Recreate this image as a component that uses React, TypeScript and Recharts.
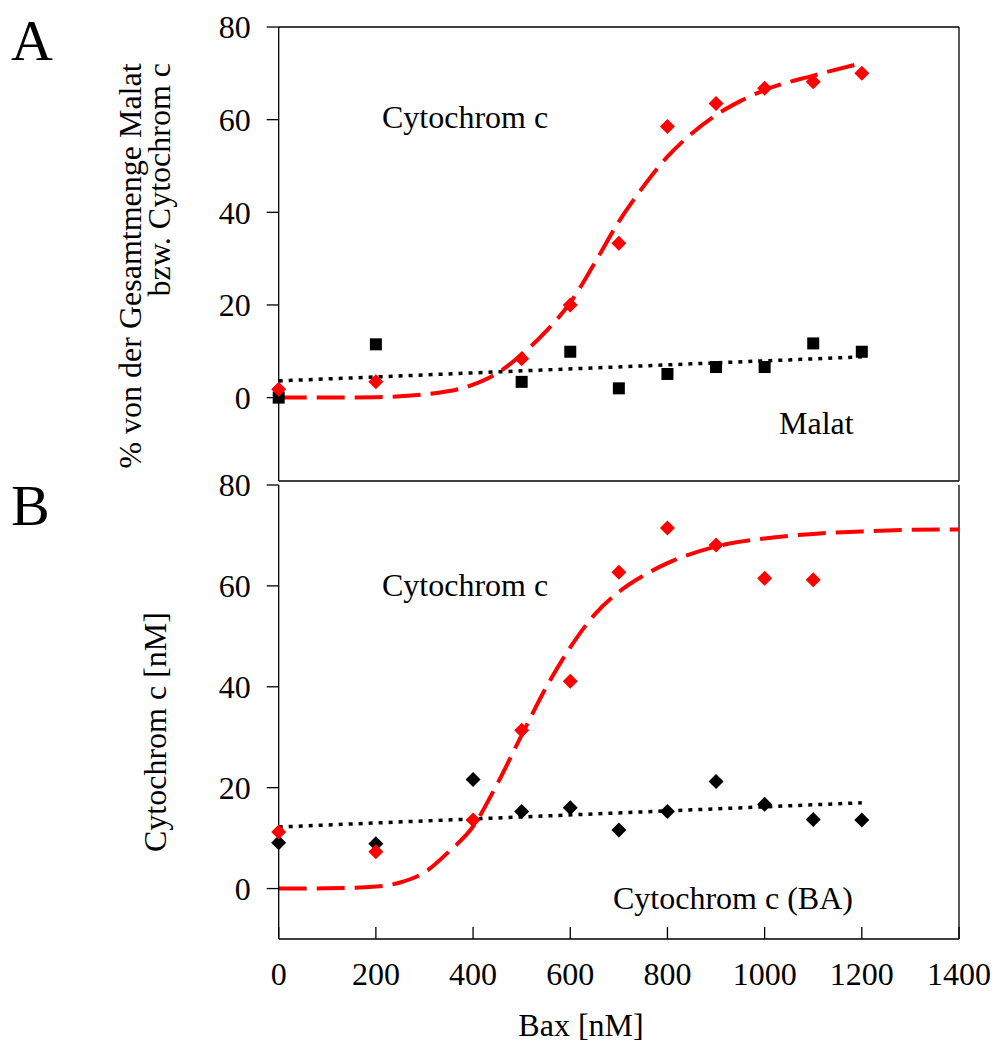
import React from "react";
import { ComposedChart, Line, ReferenceLine, Scatter, XAxis, YAxis } from "recharts";

const FONT = '"Liberation Serif", "Times New Roman", serif';

const baxTicks = [0, 200, 400, 600, 800, 1000, 1200, 1400];
const percentTicks = [0, 20, 40, 60, 80];

// Panel A: release in % of total
const baxA = [0, 200, 500, 600, 700, 800, 900, 1000, 1100, 1200];
const cytoA = [1.8, 3.4, 8.4, 20.0, 33.3, 58.5, 63.5, 66.8, 68.2, 70.0];
const malatA = [0.0, 11.5, 3.4, 9.9, 2.0, 5.1, 6.6, 6.6, 11.7, 9.9];

const fitAx = [0, 100, 200, 300, 400, 450, 500, 550, 600, 650, 700, 750, 800, 850, 900, 950, 1000, 1100, 1200];
const fitAy = [0, 0, 0.1, 0.7, 2.8, 5.3, 9.3, 14.3, 20.5, 29, 38, 45.5, 52, 57, 61, 64, 66.4, 69.5, 72.2];
const trendAx = [0, 1200];
const trendAy = [3.6, 8.8];

// Panel B: cytochrome c in nM
const baxB = [0, 200, 400, 500, 600, 700, 800, 900, 1000, 1100, 1200];
const cytoBx = [0, 200, 400, 500, 600, 700, 800, 900, 1000, 1100];
const cytoB = [11.2, 7.3, 13.6, 31.4, 41.1, 62.7, 71.5, 68.1, 61.5, 61.2];
const cytoBA = [9.1, 8.9, 21.6, 15.3, 16.0, 11.6, 15.3, 21.2, 16.7, 13.7, 13.6];

const fitBx = [0, 100, 200, 250, 300, 350, 400, 450, 500, 550, 600, 650, 700, 750, 800, 900, 1000, 1100, 1200, 1300, 1400];
const fitBy = [0, 0.05, 0.4, 1.2, 3.2, 7.3, 12.3, 20.8, 30.4, 39.8, 47.8, 54.3, 58.8, 62, 64.5, 67.8, 69.4, 70.3, 70.8, 71.1, 71.2];
const trendBx = [0, 1200];
const trendBy = [12.2, 17.0];

const zip = (xs: number[], ys: number[]) => xs.map((x, i) => ({ x, y: ys[i] }));

const diamond = (color: string, r: number) => (p: any) =>
  p.cx == null ? <g /> : (
    <polygon
      points={`${p.cx},${p.cy - r} ${p.cx + r},${p.cy} ${p.cx},${p.cy + r} ${p.cx - r},${p.cy}`}
      fill={color}
    />
  );

const square = (color: string, r: number) => (p: any) =>
  p.cx == null ? <g /> : <rect x={p.cx - r} y={p.cy - r} width={2 * r} height={2 * r} fill={color} />;

const YTick = (p: any) => (
  <text x={p.x} y={p.y} dy="0.355em" textAnchor="end" fontSize={32} fontFamily={FONT} fill="#000">
    {p.payload.value}
  </text>
);

const XTick = (p: any) => (
  <text x={p.x} y={p.y} dy="0.71em" textAnchor="middle" fontSize={32} fontFamily={FONT} fill="#000">
    {p.payload.value}
  </text>
);

const axisStroke = { stroke: "#000", strokeWidth: 1.3 };

export default function App() {
  return (
    <div style={{ position: "absolute", left: 0, top: 0, width: 993, height: 1042, background: "#fff", fontFamily: FONT }}>
      {/* Panel A */}
      <div style={{ position: "absolute", left: 0, top: 0 }}>
        <ComposedChart width={993} height={500} margin={{ top: 27, right: 34, left: 198.7, bottom: 18 }}>
          <XAxis
            type="number"
            dataKey="x"
            domain={[0, 1400]}
            ticks={baxTicks}
            height={1}
            tick={false}
            tickSize={-12}
            axisLine={axisStroke}
            tickLine={axisStroke}
          />
          <YAxis
            type="number"
            dataKey="y"
            domain={[-18, 80]}
            ticks={percentTicks}
            width={80}
            tickSize={12}
            tickMargin={16}
            tick={YTick}
            axisLine={axisStroke}
            tickLine={axisStroke}
            allowDataOverflow
          />
          <ReferenceLine y={80} stroke="#000" strokeWidth={1.3} />
          <ReferenceLine x={1400} stroke="#000" strokeWidth={1.3} />
          <Line data={zip(trendAx, trendAy)} dataKey="y" type="linear" stroke="#000" strokeWidth={3.5} strokeDasharray="4 6" dot={false} isAnimationActive={false} />
          <Line data={zip(fitAx, fitAy)} dataKey="y" type="monotone" stroke="#ff0000" strokeWidth={4} strokeDasharray="28 10" dot={false} isAnimationActive={false} />
          <Scatter data={zip(baxA, malatA)} dataKey="y" shape={square("#000", 6)} isAnimationActive={false} />
          <Scatter data={zip(baxA, cytoA)} dataKey="y" shape={diamond("#ff0000", 7.5)} isAnimationActive={false} />
        </ComposedChart>
      </div>

      {/* Panel B */}
      <div style={{ position: "absolute", left: 0, top: 460 }}>
        <ComposedChart width={993} height={582} margin={{ top: 25, right: 34, left: 198.7, bottom: 43 }}>
          <XAxis
            type="number"
            dataKey="x"
            domain={[0, 1400]}
            ticks={baxTicks}
            height={60}
            tickSize={-12}
            tickMargin={35}
            tick={XTick}
            axisLine={axisStroke}
            tickLine={axisStroke}
          />
          <YAxis
            type="number"
            dataKey="y"
            domain={[-10, 80]}
            ticks={percentTicks}
            width={80}
            tickSize={12}
            tickMargin={16}
            tick={YTick}
            axisLine={axisStroke}
            tickLine={axisStroke}
            allowDataOverflow
          />
          <ReferenceLine x={1400} stroke="#000" strokeWidth={1.3} />
          <Line data={zip(trendBx, trendBy)} dataKey="y" type="linear" stroke="#000" strokeWidth={3.5} strokeDasharray="4 6" dot={false} isAnimationActive={false} />
          <Line data={zip(fitBx, fitBy)} dataKey="y" type="monotone" stroke="#ff0000" strokeWidth={4} strokeDasharray="28 10" dot={false} isAnimationActive={false} />
          <Scatter data={zip(baxB, cytoBA)} dataKey="y" shape={diamond("#000", 7.5)} isAnimationActive={false} />
          <Scatter data={zip(cytoBx, cytoB)} dataKey="y" shape={diamond("#ff0000", 7.5)} isAnimationActive={false} />
        </ComposedChart>
      </div>

      {/* titles and annotations */}
      <svg width={993} height={1042} style={{ position: "absolute", left: 0, top: 0, pointerEvents: "none" }} fontFamily={FONT} fill="#000">
        <text x={11} y={60} fontSize={58}>A</text>
        <text x={11} y={525} fontSize={58}>B</text>
        <text transform="translate(141,266) rotate(-90)" textAnchor="middle" fontSize={32}>% von der Gesamtmenge Malat</text>
        <text transform="translate(170,63) rotate(-90)" textAnchor="end" fontSize={32}>bzw. Cytochrom c</text>
        <text transform="translate(166,732) rotate(-90)" textAnchor="middle" fontSize={32}>Cytochrom c [nM]</text>
        <text x={382} y={128} fontSize={32}>Cytochrom c</text>
        <text x={779} y={434} fontSize={32}>Malat</text>
        <text x={382} y={596} fontSize={32}>Cytochrom c</text>
        <text x={613} y={909} fontSize={32}>Cytochrom c (BA)</text>
        <text x={581} y={1036} fontSize={32} textAnchor="middle">Bax [nM]</text>
      </svg>
    </div>
  );
}
